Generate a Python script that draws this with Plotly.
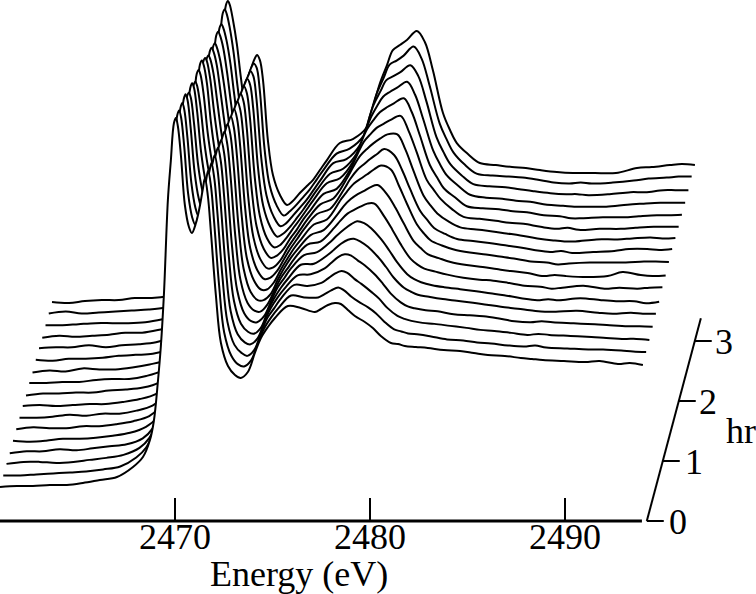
import plotly.graph_objects as go

energy_ev = [2461.03,2461.90,2462.72,2463.59,2464.46,2465.28,2466.15,2467.03,2467.85,2468.36,2468.72,2468.92,2469.13,2469.28,2469.44,2469.64,2469.79,2469.95,
             2470.05,2470.15,2470.31,2470.51,2470.72,2470.87,2471.08,2471.28,2471.44,2471.54,
             2471.69,2471.85,2472.10,2472.36,2472.72,2473.08,
             2473.38,2473.74,2474.10,2474.41,2474.77,2475.13,2475.79,
             2476.46,2477.18,2477.49,2477.85,2478.21,2478.51,2478.87,2479.23,2479.74,2480.15,2480.56,2481.08,2481.44,2481.79,2482.36,2482.97,2483.79,2484.62,2485.33,2486.05,2486.92,2487.74,2488.31,2488.87,2489.95,2491.03,2491.79,2492.72,2493.33,2494.00]

s00 = [34,35,35,36,36,38,41,44,54,64,81,100,140,175,228,321,360,398, 403,395,365,316,294,288,298,315,333,343, 325,288,226,178,155,146, 143,149,168,183,194,203,215, 213,209,212,216,218,217,211,205,199,193,185,178,177,175,174,173,171,170,168,166,165,163,162,161,160,159,160,157,158,156]
s01 = [34,34,35,36,37,38,40,43,52,62,78,98,138,172,225,317,357,394, 399,392,363,316,292,285,297,314,330,339, 322,286,224,177,154,145, 143,149,167,181,192,201,214, 212,212,215,219,222,219,213,208,202,196,188,180,178,176,175,173,170,169,167,166,164,163,164,162,161,160,160,159,158,157.5]
s02 = [34,36,36,35,36,38,40,43,50,60,76,96,136,170,222,313,353,390, 395,388,360,315,290,282,295,312,327,335, 319,284,222,176,153,145, 142,148,166,180,190,200,213, 212,215,219,224,227,225,219,214,206,199,190,182,179,177,175,174,172,170,168,167,165,163,164,163,162,161,160,159,159,158]
s03 = [33,35,35,37,36,38,40,42,48,58,74,94,134,168,220,310,350,387, 392,386,358,314,288,279,293,310,324,331, 316,282,220,175,152,144, 142,148,165,178,189,198,211, 212,218,223,229,232,231,226,221,212,203,193,184,180,178,176,175,172,171,170,168,165,164,165,164,163,162,161,160,160,159.5]
s04 = [34,33,34,36,36,37,39,42,48,56,72,90,130,164,215,303,342,378, 382,377,352,312,286,276,290,307,321,327, 313,280,218,174,151,143, 141,147,164,176,187,196,210, 211,220,225,231,235,236,233,228,218,208,197,187,183,180,178,176,174,172,170,168,166,164,163,163,164,162,161,162,161,161]
s05 = [34,36,35,35,37,37,39,42,47,56,70,88,128,162,213,300,340,375, 380,375,351,311,284,272,288,304,318,323, 310,278,216,173,150,142, 141,147,162,175,185,195,208, 211,222,228,234,239,242,240,235,224,213,201,189,184,181,178,176,174,172,170,168,165,163,164,163,165,163,162,162,160,161.5]
s06 = [34,34,35,37,36,38,38,41,46,54,68,86,124,158,208,292,331,366, 370,365,345,309,282,269,286,302,315,320, 307,276,215,172,149,141, 140,147,161,173,183,193,207, 210,224,231,238,242,245,248,248,235,222,208,193,187,183,180,177,174,172,171,169,166,165,163,164,166,163,164,163,164,164.5]
s07 = [34,35,34,35,36,36,38,41,46,54,67,85,124,157,207,292,330,366, 370,365,345,308,280,266,283,299,311,316, 304,274,213,171,148,140, 140,146,160,171,182,191,205, 210,226,234,241,246,249,253,255,245,232,217,199,192,186,182,178,175,173,171,169,167,164,165,164,163,164,168,165,164,164.5]
s08 = [33,35,35,36,36,38,39,41,46,54,67,84,122,156,206,290,328,364, 368,363,345,307,277,262,281,296,308,312, 301,272,211,170,148,139, 139,146,159,169,180,189,204, 209,229,237,245,250,254,259,263,259,243,225,204,195,188,183,179,176,174,172,170,167,166,164,165,166,166,166,167,167,166.5]
s09 = [34,34,35,35,37,38,38,41,46,53,66,82,119,152,200,283,320,355, 359,355,338,305,275,259,278,293,304,308, 298,270,209,169,147,138, 139,146,158,168,178,188,203, 208,228,238,247,253,258,263,268,262,247,228,206,197,189,183,178,176,174,172,170,167,165,166,164,165,166,168,168,167,168]
s10 = [33,35,34,37,36,36,38,41,45,52,64,80,116,148,195,276,312,346, 350,346,332,303,272,256,275,290,300,304, 295,268,207,168,146,137, 138,145,157,166,176,186,201, 207,228,239,250,257,262,267,271,271,256,235,210,200,192,184,178,176,174,172,170,167,165,164,164,166,166,167,168,167,167.5]
s11 = [34,33,35,35,36,38,39,40,45,52,64,79,114,146,192,273,308,342, 346,342,329,301,270,253,272,287,296,300, 292,266,205,167,145,136, 138,145,156,164,175,184,200, 205,225,238,252,260,266,270,274,278,263,242,214,204,195,185,177,175,173,171,170,167,165,166,164,165,165,166,167,167,167]
s12 = [34,35,35,37,35,37,38,40,45,51,62,77,112,142,188,267,302,335, 339,335,323,299,268,250,270,283,292,296, 289,264,204,166,144,135, 137,145,155,163,173,183,199, 204,222,237,253,263,270,275,279,284,270,247,217,205,194,185,176,174,173,171,170,167,166,164,164,165,165,166,167,167,167.5]
s13 = [33,35,34,35,36,38,38,41,45,51,62,77,112,142,188,267,302,335, 339,335,323,298,266,247,267,280,288,292, 286,262,202,165,144,134, 137,144,153,161,171,181,197, 202,218,233,252,265,274,279,283,289,276,252,220,206,195,185,176,173,172,170,169,166,165,164,164,164,166,167,168,168,168]
s14 = [34,34,35,36,36,36,37,40,44,50,61,75,110,140,185,264,298,331, 335,331,319,296,263,244,264,277,284,288, 283,260,200,164,143,133, 136,144,152,159,169,179,196, 200,215,232,254,268,279,283,287,294,283,258,222,207,195,184,175,173,172,170,168,166,165,165,164,165,167,167,169,169,169]
s15 = [34,36,34,35,36,37,38,40,44,51,62,76,111,142,187,266,301,334, 338,334,320,295,260,242,261,273,281,284, 280,258,198,162,142,132, 136,143,151,158,168,178,194, 199,212,231,254,270,283,287,292,301,289,262,224,208,195,183,174,172,171,170,168,165,164,165,164,165,167,169,170,171,171]
s16 = [34,33,35,36,36,38,38,40,44,50,61,75,110,140,185,264,298,331, 335,331,316,292,258,240,258,270,278,281, 276,256,196,161,141,131, 135,143,150,156,166,176,193, 197,209,229,253,271,286,291,296,305,294,266,223,206,193,182,173,171,169,168,166,164,163,163,163,163,168,169,171,172,171]
spectra = [s00,s01,s02,s03,s04,s05,s06,s07,s08,s09,s10,s11,s12,s13,s14,s15,s16]

energy_ticks = [2470,2480,2490]
hour_ticks = [0,1,2,3]
hour_labels = ["0","1","2","3"]
hour_axis_top = 3.38

E_MIN, E_MAX = 2461.03, 2499.80
E_AXIS_END = 2493.95
Y_MAX = 521.0
STEP_E, STEP_Y = 0.1667, 11.56      # waterfall shift per spectrum
HOUR_E, HOUR_Y = 0.82, 60.0         # slant of the time axis per hour
ORIGIN_E = 2494.2
TICK_E = 0.87
INK = "black"
SERIF = "Liberation Serif"

fig = go.Figure()
for k in range(len(spectra)-1, -1, -1):
    fig.add_trace(go.Scatter(
        x=[e + k*STEP_E for e in energy_ev],
        y=[v + k*STEP_Y for v in spectra[k]],
        mode="lines", line=dict(color=INK, width=2.0, shape="spline", smoothing=1.0),
        fill="tozeroy", fillcolor="white", hoverinfo="skip", showlegend=False))

shapes = [dict(type="line", xref="x", yref="paper", x0=E_MIN, x1=E_AXIS_END, y0=0, y1=0,
               line=dict(color=INK, width=3), layer="above"),
          dict(type="line", xref="x", yref="paper", x0=ORIGIN_E, x1=ORIGIN_E + hour_axis_top*HOUR_E,
               y0=0, y1=hour_axis_top*HOUR_Y/Y_MAX, line=dict(color=INK, width=2), layer="above")]
for h in hour_ticks:
    shapes.append(dict(type="line", xref="x", yref="paper",
                       x0=ORIGIN_E + h*HOUR_E, x1=ORIGIN_E + h*HOUR_E + TICK_E,
                       y0=h*HOUR_Y/Y_MAX, y1=h*HOUR_Y/Y_MAX,
                       line=dict(color=INK, width=2), layer="above"))

def ex(xp): return E_MIN + xp/19.5
def py(yp): return (521.0 - yp) / Y_MAX

ann = []
for h, lab, xp in zip(hour_ticks, hour_labels, [678, 694, 708, 724]):
    ann.append(dict(x=ex(xp), y=py(521 - h*HOUR_Y + 1), xref="x", yref="paper", text=lab, showarrow=False,
                    font=dict(family=SERIF, size=36, color=INK), xanchor="center", yanchor="middle"))
ann.append(dict(x=ex(741), y=py(431), xref="x", yref="paper", text="hr", showarrow=False,
                font=dict(family=SERIF, size=36, color=INK), xanchor="center", yanchor="middle"))
ann.append(dict(x=ex(299.5), y=py(573.5), xref="x", yref="paper", text="Energy (eV)", showarrow=False,
                font=dict(family=SERIF, size=36, color=INK), xanchor="center", yanchor="middle"))

fig.update_layout(
    width=756, height=594, autosize=False,
    margin=dict(l=0, r=0, t=0, b=73, pad=0),
    paper_bgcolor="white", plot_bgcolor="white",
    showlegend=False, annotations=ann, shapes=shapes,
    xaxis=dict(range=[E_MIN, E_MAX], tickvals=energy_ticks, ticktext=[str(t) for t in energy_ticks],
               ticks="inside", ticklen=23, tickwidth=2, tickcolor=INK, ticklabelstandoff=-9,
               showline=False, showgrid=False, zeroline=False,
               tickfont=dict(family=SERIF, size=36, color=INK)),
    yaxis=dict(range=[0, Y_MAX], visible=False, showgrid=False, zeroline=False),
)
fig.write_html("out.html", config=dict(displayModeBar=False), post_script="document.body.style.margin='0';")
